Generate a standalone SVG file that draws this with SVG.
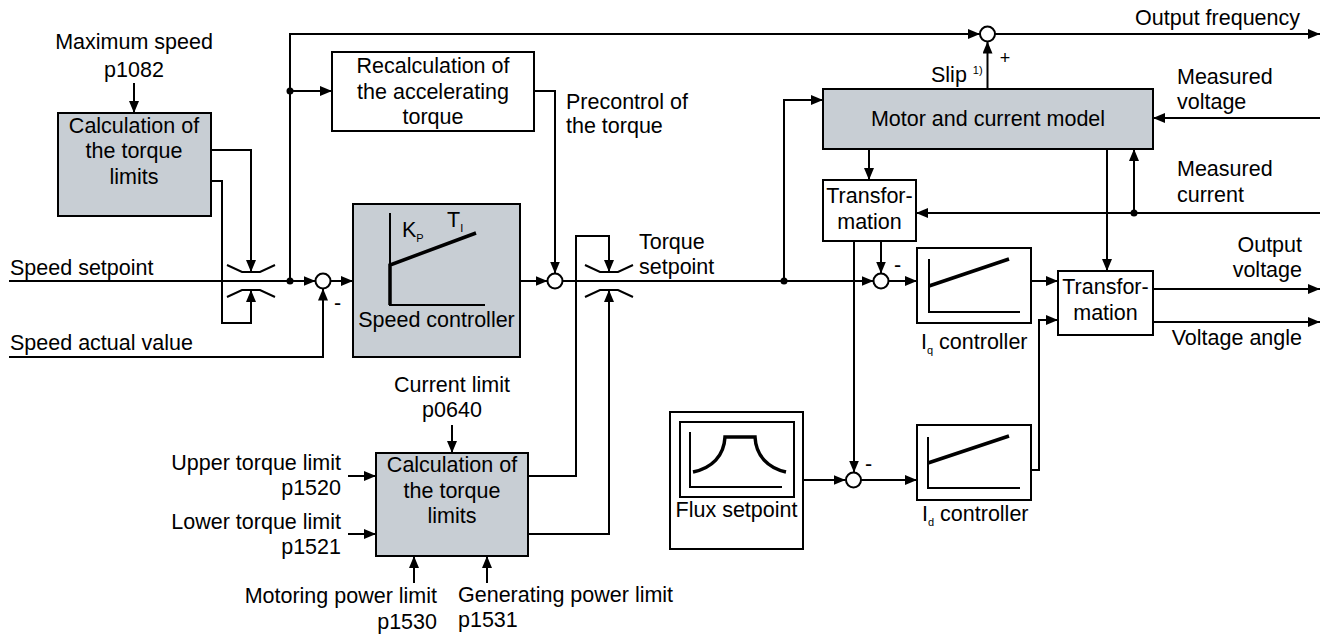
<svg xmlns="http://www.w3.org/2000/svg" width="1330" height="634" viewBox="0 0 1330 634">
<defs>
<marker id="ah" markerUnits="userSpaceOnUse" markerWidth="12" markerHeight="10" refX="12" refY="5" orient="auto">
<path d="M0,0 L12,5 L0,10 z" fill="#000"/>
</marker>
<style>
text{font-family:"Liberation Sans",Arial,sans-serif;font-size:21.5px;fill:#000}
.m{text-anchor:middle}
.e{text-anchor:end}
.box{fill:#fff;stroke:#000;stroke-width:2}
.gray{fill:#c8ced4;stroke:#000;stroke-width:2}
.ln{fill:none;stroke:#000;stroke-width:2}
.arr{marker-end:url(#ah)}
.thick{fill:none;stroke:#000;stroke-width:3.5}
.sum{fill:#fff;stroke:#000;stroke-width:2}
.dot{fill:#000}
.sub{font-size:11px}
</style>
</defs>
<rect width="1330" height="634" fill="#fff"/>

<g id="connectors">
<path class="ln arr" d="M9,281 H315.5"/>
<path class="ln arr" d="M290,281 V34 H980"/>
<path class="ln arr" d="M290,91 H332"/>
<path class="ln arr" d="M211,150 H251 V272"/>
<path class="ln arr" d="M211,181 H222 V323 H251 V290"/>
<path class="ln arr" d="M9,357 H323 V288.5"/>
<path class="ln arr" d="M330.5,281 H353"/>
<path class="ln arr" d="M520,281 H547.5"/>
<path class="ln arr" d="M534,91 H555 V273.5"/>
<path class="ln arr" d="M562.5,281 H873.5"/>
<path class="ln arr" d="M784,281 V100 H823"/>
<path class="ln arr" d="M528,476 H576 V236 H609 V272"/>
<path class="ln arr" d="M528,534 H609 V290"/>
<path class="ln arr" d="M134,83 V113"/>
<path class="ln arr" d="M452,425 V453"/>
<path class="ln arr" d="M348,476 H376"/>
<path class="ln arr" d="M348,534 H376"/>
<path class="ln arr" d="M414,583 V556"/>
<path class="ln arr" d="M487,583 V556"/>
<path class="ln arr" d="M987.5,89 V41.5"/>
<path class="ln arr" d="M995,34 H1320"/>
<path class="ln arr" d="M1320,118 H1153"/>
<path class="ln arr" d="M869,149 V180"/>
<path class="ln arr" d="M1320,213 H916"/>
<path class="ln arr" d="M1134,213 V149"/>
<path class="ln arr" d="M1107,149 V271"/>
<path class="ln arr" d="M854,241 V472.5"/>
<path class="ln arr" d="M881,241 V273.5"/>
<path class="ln arr" d="M888.5,281 H917"/>
<path class="ln arr" d="M1031,281 H1058"/>
<path class="ln arr" d="M1153,289 H1320"/>
<path class="ln arr" d="M1153,322 H1320"/>
<path class="ln arr" d="M1031,470 H1039 V320 H1058"/>
<path class="ln arr" d="M803,480 H845.5"/>
<path class="ln arr" d="M860.5,480 H917"/>
<circle class="dot" cx="290" cy="281" r="3.5"/>
<circle class="dot" cx="290" cy="91" r="3.5"/>
<circle class="dot" cx="784" cy="281" r="3.5"/>
<circle class="dot" cx="1134" cy="213" r="3.5"/>
</g>

<g id="speed-limiter">
<path class="ln" d="M227,265 L242,272 H260 L275,265"/>
<path class="ln" d="M227,297 L242,290 H260 L275,297"/>
</g>
<g id="torque-limiter">
<path class="ln" d="M585,265 L600,272 H618 L633,265"/>
<path class="ln" d="M585,297 L600,290 H618 L633,297"/>
</g>

<g id="sum1">
<circle class="sum" cx="323" cy="281" r="7.5"/>
<text x="334" y="310">-</text>
</g>
<g id="sum2">
<circle class="sum" cx="555" cy="281" r="7.5"/>
</g>
<g id="sum-freq">
<circle class="sum" cx="987.5" cy="34" r="7.5"/>
<text class="m" x="1005" y="64" style="font-size:18px">+</text>
</g>
<g id="sum-iq">
<circle class="sum" cx="881" cy="281" r="7.5"/>
<text x="894" y="272">-</text>
</g>
<g id="sum-id">
<circle class="sum" cx="853.5" cy="480" r="7.5"/>
<text x="865" y="471">-</text>
</g>

<g id="max-speed">
<text class="m" x="134" y="49">Maximum speed</text>
<text class="m" x="134" y="77">p1082</text>
</g>
<g id="calc-limits-speed">
<rect class="gray" x="58" y="113" width="153" height="103"/>
<text class="m" x="134" y="133">Calculation of</text>
<text class="m" x="134" y="158">the torque</text>
<text class="m" x="134" y="184">limits</text>
</g>
<g id="speed-inputs">
<text x="10" y="275">Speed setpoint</text>
<text x="10" y="350">Speed actual value</text>
</g>
<g id="recalc">
<rect class="box" x="332" y="52" width="202" height="79"/>
<text class="m" x="433" y="73">Recalculation of</text>
<text class="m" x="433" y="99">the accelerating</text>
<text class="m" x="433" y="124">torque</text>
</g>
<g id="precontrol-label">
<text x="566" y="109">Precontrol of</text>
<text x="566" y="133">the torque</text>
</g>
<g id="speed-controller">
<rect class="gray" x="353" y="204" width="167" height="153"/>
<path class="ln" d="M390,213 V305 H485"/>
<path class="thick" d="M390,305 V265 L476,233"/>
<text x="402" y="237">K<tspan class="sub" dy="5">P</tspan></text>
<text x="447" y="227">T<tspan class="sub" dy="5">I</tspan></text>
<text class="m" x="436.5" y="327">Speed controller</text>
</g>
<g id="torque-setpoint-label">
<text x="639" y="249">Torque</text>
<text x="639" y="274">setpoint</text>
</g>
<g id="calc-limits-torque">
<text class="m" x="452" y="392">Current limit</text>
<text class="m" x="452" y="417">p0640</text>
<rect class="gray" x="376" y="453" width="152" height="103"/>
<text class="m" x="452" y="472">Calculation of</text>
<text class="m" x="452" y="498">the torque</text>
<text class="m" x="452" y="523">limits</text>
<text class="e" x="341" y="470">Upper torque limit</text>
<text class="e" x="341" y="495">p1520</text>
<text class="e" x="341" y="529">Lower torque limit</text>
<text class="e" x="341" y="554">p1521</text>
<text class="e" x="437" y="603">Motoring power limit</text>
<text class="e" x="437" y="629">p1530</text>
<text x="458" y="602">Generating power limit</text>
<text x="458" y="627">p1531</text>
</g>
<g id="motor-model">
<rect class="gray" x="823" y="89" width="330" height="60"/>
<text class="m" x="988" y="126">Motor and current model</text>
<text x="931" y="82">Slip <tspan class="sub" dy="-8">1)</tspan></text>
</g>
<g id="outputs-top">
<text class="e" x="1300" y="25">Output frequency</text>
<text x="1177" y="84">Measured</text>
<text x="1177" y="109">voltage</text>
<text x="1177" y="176">Measured</text>
<text x="1177" y="202">current</text>
</g>
<g id="transformation-in">
<rect class="box" x="823" y="180" width="93" height="61"/>
<text class="m" x="869.5" y="203">Transfor-</text>
<text class="m" x="869.5" y="229">mation</text>
</g>
<g id="iq-controller">
<rect class="box" x="917" y="248" width="114" height="75"/>
<path class="ln" d="M929,259 V312 H1020"/>
<path class="thick" d="M929,286 L1009,259"/>
<text x="921" y="349">I<tspan class="sub" dy="5">q</tspan><tspan dy="-5"> controller</tspan></text>
</g>
<g id="transformation-out">
<rect class="box" x="1058" y="271" width="95" height="64"/>
<text class="m" x="1105.5" y="294">Transfor-</text>
<text class="m" x="1105.5" y="320">mation</text>
<text class="e" x="1302" y="252">Output</text>
<text class="e" x="1302" y="277">voltage</text>
<text class="e" x="1302" y="345">Voltage angle</text>
</g>
<g id="flux-setpoint">
<rect class="box" x="670" y="412" width="133" height="137"/>
<rect class="box" x="680" y="422" width="114" height="75"/>
<path class="ln" d="M690,432 V487 H782"/>
<path class="thick" d="M693,472 C712,468 724,456 725,437 H755 C756,456 768,468 786,472"/>
<text class="m" x="736.5" y="517">Flux setpoint</text>
</g>
<g id="id-controller">
<rect class="box" x="917" y="425" width="114" height="75"/>
<path class="ln" d="M928,437 V488 H1020"/>
<path class="thick" d="M928,463 L1009,436"/>
<text x="922" y="521">I<tspan class="sub" dy="5">d</tspan><tspan dy="-5"> controller</tspan></text>
</g>
</svg>
